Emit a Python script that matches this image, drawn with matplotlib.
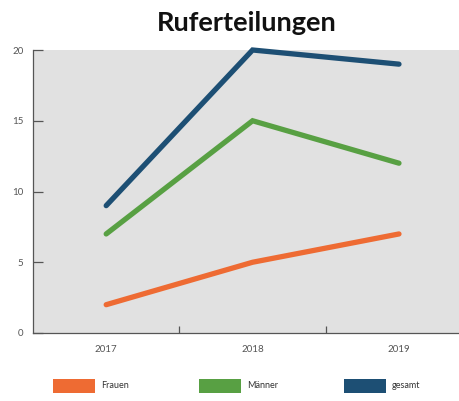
import matplotlib
matplotlib.use("Agg")
import matplotlib.pyplot as plt
from matplotlib.patches import Rectangle

years = ["2017", "2018", "2019"]
series_names = ["Frauen", "Männer", "gesamt"]
frauen = [2, 5, 7]
maenner = [7, 15, 12]
gesamt = [9, 20, 19]
yticks = [0, 5, 10, 15, 20]

colors = ["#ee6b33", "#58a043", "#1d4f74"]
values = [frauen, maenner, gesamt]

plt.rcParams['font.family'] = ['Lato', 'DejaVu Sans']

fig = plt.figure(figsize=(4.59, 4.01), dpi=100)
ax = fig.add_axes([33/459, 1-333/401, 1-33/459, (333-50)/401])
ax.set_facecolor("#e1e1e1")
x = list(range(len(years)))
for vals, c in zip(values, colors):
    ax.plot(x, vals, color=c, lw=3.8, solid_capstyle="round", solid_joinstyle="miter",
            clip_on=False, zorder=3)

ax.set_xlim(-0.5, 2.41)
ax.set_ylim(0, 20)
ax.set_yticks(yticks)
ax.set_yticklabels([str(t) for t in yticks])
ax.set_xticks(x)
ax.set_xticklabels(years)
ax.set_xticks([0.5, 1.5], minor=True)
ax.tick_params(axis="x", which="major", length=0, pad=9, labelsize=7, labelcolor="#555555")
ax.tick_params(axis="x", which="minor", direction="in", length=5, width=0.9, color="#555555")
ax.tick_params(axis="y", direction="in", length=7, width=0.9, color="#555555", pad=7,
               labelsize=7, labelcolor="#555555")
for s in ["top", "right"]:
    ax.spines[s].set_visible(False)
for s in ["left", "bottom"]:
    ax.spines[s].set_color("#555555")
    ax.spines[s].set_linewidth(0.9)

fig.text(247/459, 1-23/401, "Ruferteilungen", ha="center", va="center",
         fontsize=19.5, fontweight="bold", color="#111111")

# legend
lx = [53, 199, 344]
for i, (name, c) in enumerate(zip(series_names, colors)):
    fig.patches.append(Rectangle((lx[i]/459, 1-393/401), 42/459, 14/401,
                                 transform=fig.transFigure, facecolor=c, edgecolor="none"))
    fig.text((lx[i]+48)/459, 1-386/401, name, ha="left", va="center",
             fontsize=6.5, color="#333333")

fig.savefig("out.png", dpi=100)
